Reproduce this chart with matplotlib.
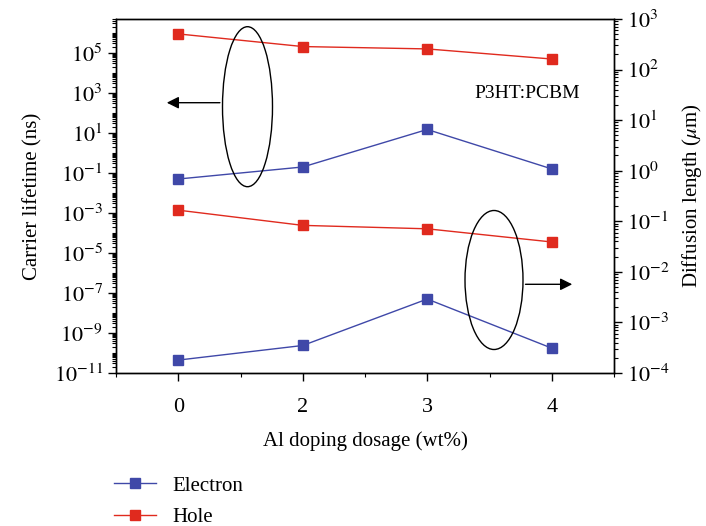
import numpy as np
import matplotlib.pyplot as plt
from matplotlib.patches import Ellipse
from matplotlib.ticker import LogLocator, FixedLocator, FuncFormatter, NullFormatter

plt.rcParams['font.family'] = 'Liberation Serif'
plt.rcParams['mathtext.fontset'] = 'stix'

dosage = ['0', '2', '3', '4']
# carrier lifetime (ns), left axis
tau_hole = [9e5, 2.1e5, 1.6e5, 5e4]
tau_electron = [0.05, 0.2, 15, 0.16]
# diffusion length (um), right axis
len_hole = [0.166, 0.083, 0.071, 0.039]
len_electron = [1.8e-4, 3.5e-4, 2.9e-3, 3.1e-4]

blue = '#3f48a8'
red = '#e02a1e'

fig = plt.figure(figsize=(7.06, 5.26), dpi=100)
ax = fig.add_axes([116 / 706, 1 - 373 / 526, 498 / 706, 354 / 526])
ax2 = ax.twinx()

x = np.arange(len(dosage))
ax.plot(x, tau_hole, '-s', color=red, lw=1, ms=7)
ax.plot(x, tau_electron, '-s', color=blue, lw=1, ms=7)
ax2.plot(x, len_hole, '-s', color=red, lw=1, ms=7)
ax2.plot(x, len_electron, '-s', color=blue, lw=1, ms=7)

ax.set_yscale('log')
ax2.set_yscale('log')
ax.set_ylim(1e-11, 10 ** 6.7)
ax2.set_ylim(1e-4, 1e3)
ax.set_xlim(-0.5, 3.5)

ax.set_xticks(x)
ax.set_xticklabels(dosage)
ax.xaxis.set_minor_locator(FixedLocator([-0.5, 0.5, 1.5, 2.5, 3.5]))

def sci(v, pos):
    return r'$10^{%d}$' % round(np.log10(v))

ax.yaxis.set_major_locator(FixedLocator([10.0 ** k for k in range(-11, 7, 2)]))
ax.yaxis.set_major_formatter(FuncFormatter(sci))
ax.yaxis.set_minor_locator(LogLocator(base=10, subs=np.arange(1, 10), numticks=40))
ax.yaxis.set_minor_formatter(NullFormatter())
ax2.yaxis.set_major_locator(FixedLocator([10.0 ** k for k in range(-4, 4)]))
ax2.yaxis.set_major_formatter(FuncFormatter(sci))
ax2.yaxis.set_minor_locator(LogLocator(base=10, subs=np.arange(2, 10), numticks=40))
ax2.yaxis.set_minor_formatter(NullFormatter())

for a in (ax, ax2):
    a.tick_params(which='major', direction='out', length=6, width=1, labelsize=16)
    a.tick_params(which='minor', direction='out', length=3, width=0.8)
    for s in a.spines.values():
        s.set_linewidth(1)
ax.tick_params(axis='x', which='major', pad=12)

ax.set_xlabel('Al doping dosage (wt%)', fontsize=15, labelpad=10)
ax.set_ylabel('Carrier lifetime (ns)', fontsize=15, labelpad=8)
ax2.set_ylabel(r'Diffusion length ($\mu$m)', fontsize=15, labelpad=7)

ax.text(0.825, 0.79, 'P3HT:PCBM', transform=ax.transAxes, fontsize=14,
        ha='center', va='center')

# ellipses with arrows pointing to the owning axis
fig.patches.append(Ellipse((247.5 / 706, 1 - 106.7 / 526), 50 / 706, 160 / 526,
                           fill=False, ec='black', lw=1, transform=fig.transFigure))
fig.patches.append(Ellipse((494 / 706, 1 - 280 / 526), 58 / 706, 139 / 526,
                           fill=False, ec='black', lw=1, transform=fig.transFigure))
ax.annotate('', xy=(164 / 706, 1 - 102.7 / 526), xytext=(222.7 / 706, 1 - 102.7 / 526),
            xycoords='figure fraction', textcoords='figure fraction',
            arrowprops=dict(arrowstyle='-|>', color='black', lw=1, mutation_scale=18))
ax.annotate('', xy=(575 / 706, 1 - 284.3 / 526), xytext=(522.7 / 706, 1 - 284.3 / 526),
            xycoords='figure fraction', textcoords='figure fraction',
            arrowprops=dict(arrowstyle='-|>', color='black', lw=1, mutation_scale=18))

handles = [plt.Line2D([], [], color=blue, marker='s', lw=1, ms=7),
           plt.Line2D([], [], color=red, marker='s', lw=1, ms=7)]
fig.legend(handles, ['Electron', 'Hole'], loc='upper left',
           bbox_to_anchor=(110 / 706, 1 - 472 / 526), frameon=False, fontsize=15,
           handlelength=2.0, handletextpad=0.8, labelspacing=0.55,
           borderaxespad=0, borderpad=0.2)

fig.savefig('out.png', dpi=100)
